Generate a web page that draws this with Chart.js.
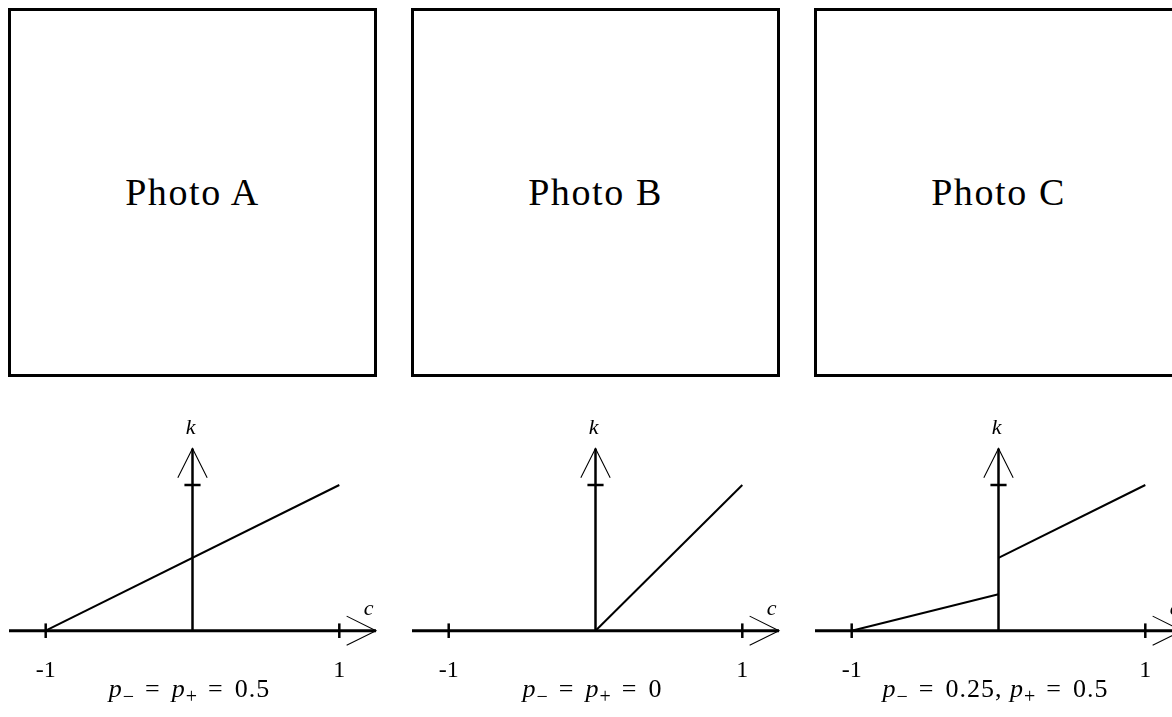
<!DOCTYPE html>
<html>
<head>
<meta charset="utf-8">
<script src="https://cdn.jsdelivr.net/npm/chart.js@4.4.0/dist/chart.umd.min.js"></script>
<style>
  html, body { margin: 0; padding: 0; background: #fff; }
  body { width: 1172px; height: 717px; overflow: hidden; position: relative; font-family: "Liberation Serif", "DejaVu Serif", serif; color: #000; }
  .photo { position: absolute; top: 8px; width: 369px; height: 369px; box-sizing: border-box; border: 3px solid #000; }
  .photo span { position: absolute; left: 0; right: 0; top: 50%; transform: translateY(-52%); text-align: center; font-size: 38px; letter-spacing: 1.6px; }
  canvas { position: absolute; top: 400px; }
  .cap { position: absolute; top: 676px; width: 320px; text-align: center; font-size: 26px; line-height: 1; white-space: nowrap; letter-spacing: 1px; }
  .cap sub { font-size: 20px; vertical-align: -6px; line-height: 0; letter-spacing: 0; }
  .cap .op { margin: 0 11px; }
</style>
</head>
<body>
<script>
// Panel headings and captions
const panelTitles = ['Photo A', 'Photo B', 'Photo C'];
const captions = [
  '<i>p</i><sub>\u2212</sub><span class="op">=</span><i>p</i><sub>+</sub><span class="op">=</span>0.5',
  '<i>p</i><sub>\u2212</sub><span class="op">=</span><i>p</i><sub>+</sub><span class="op">=</span>0',
  '<i>p</i><sub>\u2212</sub><span class="op">=</span>0.25, <i>p</i><sub>+</sub><span class="op">=</span>0.5'
];

// Axis ticks and names
const xTickValues = [-1, 1];
const xTickLabels = ['-1', '1'];
const yTickValues = [1];
const xAxisName = 'c';
const yAxisName = 'k';

// k as a function of c, one or two segments per panel
const cA = [-1, 1];   const kA = [0, 1];
const cB = [0, 1];    const kB = [0, 1];
const cC1 = [-1, 0];  const kC1 = [0, 0.25];
const cC2 = [0, 1];   const kC2 = [0.5, 1];

const panelSegments = [
  [[cA, kA]],
  [[cB, kB]],
  [[cC1, kC1], [cC2, kC2]]
];

const PANEL_STEP = 403;
const CANVAS_W = 403, CANVAS_H = 317;

// Draws the arrowed c/k axes, their ticks and labels from the chart's scales
const arrowAxes = {
  id: 'arrowAxes',
  beforeDatasetsDraw(chart) {
    const { ctx, scales: { x, y } } = chart;
    const X = v => x.getPixelForValue(v);
    const Y = v => y.getPixelForValue(v);
    const path = pts => {
      ctx.beginPath();
      pts.forEach(([a, b], i) => i ? ctx.lineTo(X(a), Y(b)) : ctx.moveTo(X(a), Y(b)));
      ctx.stroke();
    };
    ctx.save();
    ctx.strokeStyle = '#000';
    ctx.lineCap = 'butt';

    ctx.lineWidth = 3;
    path([[-1.25, 0], [1.25, 0]]);
    ctx.lineWidth = 2.5;
    path([[0, 0], [0, 1.25]]);

    xTickValues.forEach(v => path([[v, -0.05], [v, 0.05]]));
    yTickValues.forEach(v => path([[-0.055, v], [0.055, v]]));

    ctx.lineWidth = 1.1;
    path([[1.05, 0.1], [1.25, 0], [1.05, -0.1]]);
    path([[-0.1, 1.05], [0, 1.25], [0.1, 1.05]]);

    ctx.fillStyle = '#000';
    ctx.textAlign = 'center';
    ctx.textBaseline = 'alphabetic';
    ctx.font = '24px "Liberation Serif", serif';
    xTickValues.forEach((v, i) => ctx.fillText(xTickLabels[i], X(v), Y(-0.315)));

    ctx.font = 'italic 22px "Liberation Serif", serif';
    ctx.fillText(yAxisName, X(-0.012), Y(1.35));
    ctx.fillText(xAxisName, X(1.2), Y(0.105));
    ctx.restore();
  }
};

panelTitles.forEach((title, i) => {
  const off = i * PANEL_STEP;

  const box = document.createElement('div');
  box.className = 'photo';
  box.style.left = (off + 8) + 'px';
  const label = document.createElement('span');
  label.textContent = title;
  box.appendChild(label);
  document.body.appendChild(box);

  const canvas = document.createElement('canvas');
  canvas.width = CANVAS_W;
  canvas.height = CANVAS_H;
  canvas.style.left = off + 'px';
  canvas.style.width = CANVAS_W + 'px';
  canvas.style.height = CANVAS_H + 'px';
  document.body.appendChild(canvas);

  const datasets = panelSegments[i].map(([cs, ks]) => ({
    data: cs.map((c, j) => ({ x: c, y: ks[j] })),
    showLine: true,
    borderColor: '#000',
    borderWidth: 2,
    pointRadius: 0,
    fill: false,
    clip: false
  }));

  const chart = new Chart(canvas, {
    type: 'scatter',
    data: { datasets },
    options: {
      responsive: false,
      animation: false,
      events: [],
      layout: { padding: { left: 45.7, right: 63.7, top: 85, bottom: 86.3 } },
      plugins: { legend: { display: false }, tooltip: { enabled: false } },
      scales: {
        x: { type: 'linear', min: -1, max: 1, display: false },
        y: { type: 'linear', min: 0, max: 1, display: false }
      }
    },
    plugins: [arrowAxes]
  });

  const cap = document.createElement('div');
  cap.className = 'cap';
  cap.innerHTML = captions[i];
  cap.style.left = (off + chart.scales.x.getPixelForValue(0) - 3 - 160) + 'px';
  document.body.appendChild(cap);
});
</script>
</body>
</html>
